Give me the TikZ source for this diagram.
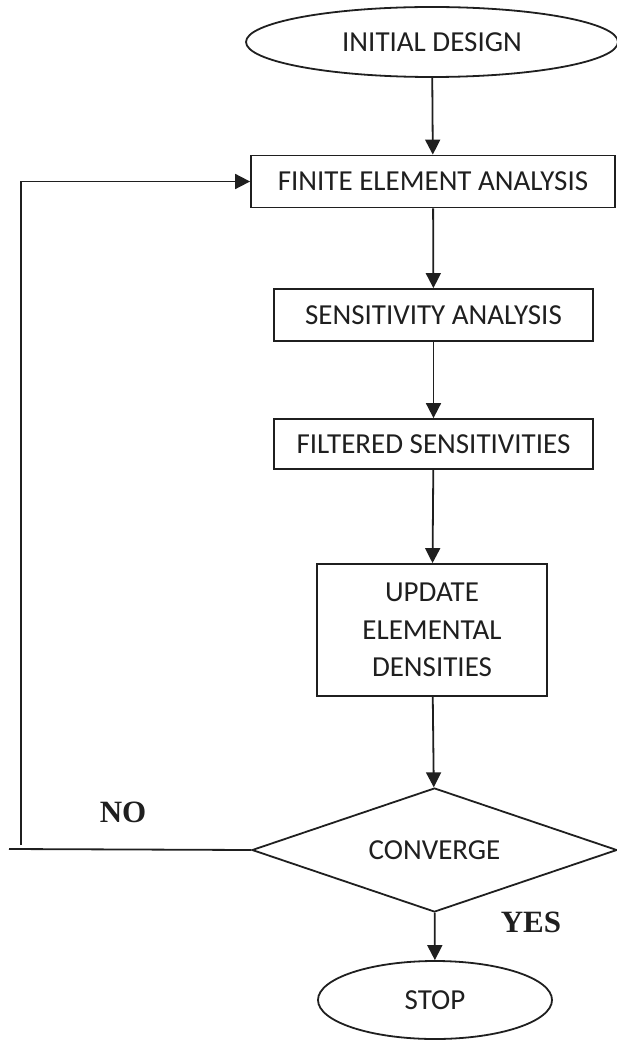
\documentclass[tikz,border=0pt]{standalone}
\usepackage{fontspec}
\setmainfont{Carlito}
\newfontfamily\yesnofont{Liberation Serif}
\usetikzlibrary{arrows.meta,shapes.geometric}

\begin{document}
\begin{tikzpicture}[x=1pt,y=-1pt,font=\fontsize{29}{37.5}\selectfont,
  color=black!88,line width=1.8pt,
  blk/.style={draw,rectangle,inner sep=0pt,align=center},
  oval/.style={draw,ellipse,inner sep=0pt},
  decide/.style={draw,diamond,inner sep=0pt,aspect=2.94},
  lbl/.style={font=\yesnofont\bfseries\fontsize{31}{31}\selectfont},
  >={Triangle[length=15pt,width=15pt]}]
  \useasboundingbox (0,0) rectangle (617,1040);
  \node[oval,minimum width=372pt,minimum height=70pt] (init) at (432,42) {INITIAL DESIGN};
  \node[blk,minimum width=364pt,minimum height=52pt] (fea) at (433,181.5) {FINITE ELEMENT ANALYSIS};
  \node[blk,minimum width=319pt,minimum height=52pt] (sens) at (433.5,315) {SENSITIVITY ANALYSIS};
  \node[blk,minimum width=319pt,minimum height=50pt] (filt) at (433.5,444) {FILTERED SENSITIVITIES};
  \node[blk,minimum width=230pt,minimum height=132pt] (upd) at (432,630) {UPDATE\\ ELEMENTAL\\ DENSITIES};
  \node[decide,minimum width=365pt,minimum height=124pt] (conv) at (434.5,850) {CONVERGE};
  \node[oval,minimum width=234pt,minimum height=78pt] (stop) at (435,1000) {STOP};
  \node[lbl] (no) at (123,812) {NO};
  \node[lbl] (yes) at (531,922) {YES};
  \coordinate (noend) at (9,849);
  \coordinate (loop) at (20.7,845);
  \draw[->] (init) -- (fea);
  \draw[->] (fea) -- (sens);
  \draw[->] (sens) -- (filt);
  \draw[->] (filt) -- (upd);
  \draw[->] (upd) -- (conv);
  \draw[->] (conv) -- (stop);
  \draw (conv.west) -- (noend);
  \draw[->] (loop) |- (fea.west);
\end{tikzpicture}
\end{document}
